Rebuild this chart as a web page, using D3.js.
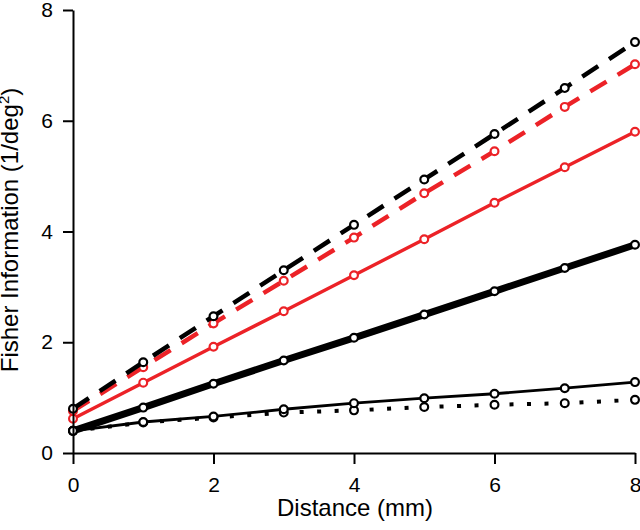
<!DOCTYPE html>
<html><head><meta charset="utf-8">
<script src="https://cdn.jsdelivr.net/npm/d3@7"></script>
<style>
html,body{margin:0;padding:0;background:#fff;}
text{font-family:"Liberation Sans",Arial,Helvetica,sans-serif;}
</style></head>
<body>
<svg id="chart" width="640" height="530"></svg>
<script>
const distances = [0, 1, 2, 3, 4, 5, 6, 7, 8];
const blackDashed = [0.80, 1.64, 2.47, 3.30, 4.12, 4.94, 5.76, 6.59, 7.42];
const redDashed   = [0.76, 1.55, 2.34, 3.11, 3.89, 4.69, 5.45, 6.25, 7.02];
const redSolid    = [0.62, 1.27, 1.92, 2.56, 3.21, 3.86, 4.52, 5.16, 5.80];
const blackThick  = [0.40, 0.82, 1.25, 1.67, 2.08, 2.50, 2.92, 3.34, 3.76];
const blackThin   = [0.40, 0.56, 0.66, 0.79, 0.90, 0.99, 1.07, 1.17, 1.28];
const blackDotted = [0.40, 0.55, 0.64, 0.73, 0.77, 0.83, 0.87, 0.90, 0.96];
const xTicks = [0, 2, 4, 6, 8];
const yTicks = [0, 2, 4, 6, 8];

const RED = "#ec2227";
const svg = d3.select("#chart");
const x = d3.scaleLinear().domain([0, 8]).range([73, 635]);
const y = d3.scaleLinear().domain([0, 8]).range([453, 10]);

const series = [
  {v: blackDotted, color: "#000", w: 4, dash: "4 13.5"},
  {v: blackThin, color: "#000", w: 2.8, dash: null},
  {v: blackThick, color: "#000", w: 7, dash: null},
  {v: redSolid, color: RED, w: 3.4, dash: null},
  {v: redDashed, color: RED, w: 4.5, dash: "19 13"},
  {v: blackDashed, color: "#000", w: 4.5, dash: "19 13"}
];

const line = d3.line().x((d, i) => x(distances[i])).y(d => y(d));

series.forEach(s => {
  svg.append("path").datum(s.v)
    .attr("d", line)
    .attr("fill", "none")
    .attr("stroke", s.color)
    .attr("stroke-width", s.w)
    .attr("stroke-dasharray", s.dash)
    .attr("stroke-linecap", "butt");
  svg.append("g").selectAll("circle").data(s.v).join("circle")
    .attr("cx", (d, i) => x(distances[i]))
    .attr("cy", d => y(d))
    .attr("r", 3.9)
    .attr("fill", "#fff")
    .attr("stroke", s.color)
    .attr("stroke-width", 2.2);
});

// axes
const xAxis = svg.append("g").attr("transform", "translate(0,453)")
  .call(d3.axisBottom(x).tickValues(xTicks).tickFormat(d3.format("d")).tickSize(11).tickPadding(13).tickSizeOuter(0));
const yAxis = svg.append("g").attr("transform", "translate(73,0)")
  .call(d3.axisLeft(y).tickValues(yTicks).tickFormat(d3.format("d")).tickSize(10).tickPadding(10).tickSizeOuter(0));
[xAxis, yAxis].forEach(a => {
  a.select(".domain").attr("stroke", "#000").attr("stroke-width", 2);
  a.selectAll(".tick line").attr("stroke", "#000").attr("stroke-width", 2);
  a.selectAll(".tick text").attr("fill", "#000").style("font-size", "21px")
    .style("font-family", "'Liberation Sans', Arial, sans-serif");
});

svg.append("text")
  .attr("x", 355).attr("y", 516)
  .attr("text-anchor", "middle")
  .style("font-size", "24px")
  .text("Distance (mm)");

const yl = svg.append("text")
  .attr("transform", "translate(18,230) rotate(-90)")
  .attr("text-anchor", "middle")
  .style("font-size", "24px");
yl.append("tspan").text("Fisher Information (1/deg");
yl.append("tspan").attr("dy", -9).style("font-size", "15px").text("2");
yl.append("tspan").attr("dy", 9).text(")");
</script>
</body></html>
